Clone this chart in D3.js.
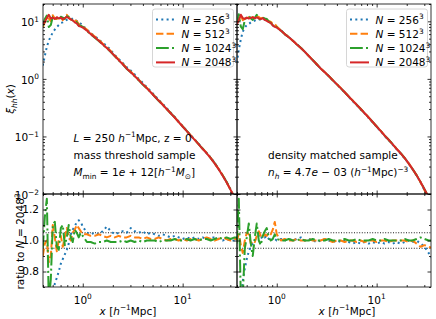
<!DOCTYPE html>
<html>
<head>
<meta charset="utf-8">
<script src="https://cdn.jsdelivr.net/npm/d3@7"></script>
<style>
body { margin: 0; background: #fff; }
svg text { font-family: "DejaVu Sans", sans-serif; font-size: 10.5px; white-space: pre; }
</style>
</head>
<body>
<div id="chart"></div>
<script>
// separation x [h^-1 Mpc]
const xVals = [0.398, 0.417, 0.437, 0.457, 0.479, 0.501, 0.525, 0.550, 0.575, 0.603,
  0.631, 0.661, 0.692, 0.724, 0.759, 0.794, 0.832, 0.871, 0.912, 0.955, 1.00,
  1.10, 1.20, 1.32, 1.45, 1.58, 1.74, 1.91, 2.09, 2.29, 2.51, 2.75, 3.02, 3.31, 3.63,
  3.98, 4.37, 4.79, 5.25, 5.75, 6.31, 6.92, 7.59, 8.32, 9.12, 10.0, 11.0, 12.0, 13.2,
  14.5, 15.8, 17.4, 19.1, 20.9, 22.9, 25.1, 27.5, 30.2, 33.1, 36.3];

const labels = ["256", "512", "1024", "2048"];

// xi_hh, mass threshold sample
const massXi256 = [1.7, 2.5, 3.6, 4.6, 5.5, 6.4, 7.2, 8.0, 8.6, 9.4, 9.6, 10.0, 10.6, 10.9, 11.0, 11.1, 10.4, 10.2, 9.4, 9.1, 8.5,
  7.2, 6.25, 5.55, 4.8, 4.25, 3.75, 3.15, 2.6, 2.23, 1.9, 1.6, 1.4, 1.19, 1.0, 0.86, 0.72, 0.615, 0.515, 0.433, 0.37,
  0.31, 0.258, 0.219, 0.182, 0.15, 0.126, 0.105, 0.089, 0.074, 0.062, 0.0515, 0.043, 0.0347, 0.0273, 0.021, 0.0162, 0.0118, 0.0085, 0.0058];
const massXi512 = [7.9, 9.6, 11.5, 11.2, 10.1, 12.8, 11.2, 11.0, 11.2, 11.9, 10.5, 11.5, 13.0, 11.6, 10.8, 10.9, 10.3, 10.1, 9.0, 8.6, 8.1,
  7.18, 6.18, 5.46, 4.78, 4.12, 3.52, 3.04, 2.55, 2.18, 1.84, 1.55, 1.34, 1.14, 0.97, 0.82, 0.70, 0.59, 0.5, 0.43, 0.36,
  0.30, 0.256, 0.215, 0.178, 0.15, 0.124, 0.105, 0.088, 0.073, 0.062, 0.052, 0.0424, 0.034, 0.0273, 0.0214, 0.0162, 0.0118, 0.0086, 0.0059];
const massXi1024 = [8.4, 11.0, 12.6, 8.0, 8.6, 12.0, 12.0, 11.3, 10.5, 12.0, 11.6, 11.0, 12.2, 12.0, 11.0, 10.3, 10.2, 9.6, 8.5, 8.4, 8.0,
  6.83, 5.94, 5.2, 4.55, 3.96, 3.45, 2.92, 2.48, 2.1, 1.8, 1.5, 1.3, 1.11, 0.95, 0.8, 0.69, 0.585, 0.495, 0.416, 0.355,
  0.30, 0.253, 0.215, 0.178, 0.149, 0.125, 0.104, 0.088, 0.073, 0.0616, 0.0515, 0.042, 0.0343, 0.0275, 0.0212, 0.0163, 0.0119, 0.0087, 0.0059];
const massXi2048 = [8.8, 9.8, 11.5, 13.0, 11.2, 11.6, 11.0, 11.8, 11.2, 11.6, 10.9, 11.3, 12.0, 11.4, 10.8, 10.4, 9.6, 9.2, 8.3, 8.1, 7.8,
  6.9, 6.0, 5.3, 4.6, 4.0, 3.45, 2.95, 2.5, 2.12, 1.8, 1.52, 1.3, 1.12, 0.95, 0.81, 0.69, 0.585, 0.495, 0.42, 0.355,
  0.30, 0.253, 0.213, 0.178, 0.149, 0.124, 0.104, 0.087, 0.073, 0.061, 0.051, 0.042, 0.034, 0.027, 0.021, 0.016, 0.0118, 0.0085, 0.0058];

// xi_hh, density matched sample
const densXi256 = [1.9, 3.2, 4.9, 6.6, 7.8, 8.6, 9.0, 9.6, 10.0, 10.3, 10.7, 10.8, 10.9, 10.9, 10.6, 10.4, 9.8, 9.5, 8.5, 8.1, 7.8,
  7.0, 6.0, 5.35, 4.6, 4.04, 3.5, 2.95, 2.52, 2.12, 1.78, 1.52, 1.31, 1.12, 0.94, 0.81, 0.68, 0.585, 0.49, 0.41, 0.351,
  0.294, 0.25, 0.209, 0.176, 0.146, 0.123, 0.102, 0.086, 0.0715, 0.0604, 0.05, 0.0416, 0.034, 0.0267, 0.0212, 0.0159, 0.0115, 0.0081, 0.0053];
const densXi512 = [8.9, 10.9, 12.6, 10.5, 11.0, 12.2, 11.6, 11.3, 11.8, 11.2, 12.1, 11.9, 11.2, 11.5, 11.0, 10.5, 10.2, 9.8, 9.1, 9.0, 8.1,
  6.95, 6.05, 5.33, 4.62, 4.02, 3.47, 2.96, 2.51, 2.13, 1.81, 1.53, 1.31, 1.13, 0.955, 0.815, 0.693, 0.588, 0.497, 0.423, 0.357,
  0.302, 0.254, 0.214, 0.179, 0.15, 0.125, 0.1045, 0.0875, 0.0734, 0.0613, 0.0512, 0.0422, 0.0341, 0.0271, 0.0213, 0.016, 0.0116, 0.0084, 0.0057];
const densXi1024 = [8.7, 13.3, 8.1, 7.3, 10.5, 11.8, 12.4, 11.3, 10.6, 11.5, 13.0, 11.2, 10.6, 11.6, 11.2, 11.0, 9.9, 9.4, 8.6, 8.3, 7.9,
  6.9, 6.0, 5.3, 4.6, 4.0, 3.46, 2.95, 2.5, 2.13, 1.8, 1.52, 1.3, 1.12, 0.95, 0.81, 0.69, 0.585, 0.495, 0.42, 0.355,
  0.30, 0.253, 0.214, 0.178, 0.149, 0.1245, 0.104, 0.0875, 0.073, 0.0612, 0.0512, 0.042, 0.0341, 0.0271, 0.0212, 0.0162, 0.012, 0.0088, 0.006];
const densXi2048 = [8.9, 10.5, 13.0, 11.4, 11.0, 11.6, 11.2, 11.5, 11.8, 11.3, 11.7, 11.2, 10.9, 11.3, 10.6, 10.2, 9.7, 9.4, 8.5, 8.0, 7.8,
  6.9, 6.0, 5.3, 4.6, 4.0, 3.45, 2.95, 2.5, 2.12, 1.8, 1.52, 1.3, 1.12, 0.95, 0.81, 0.69, 0.585, 0.495, 0.42, 0.355,
  0.30, 0.253, 0.213, 0.178, 0.149, 0.124, 0.104, 0.087, 0.073, 0.061, 0.051, 0.042, 0.034, 0.027, 0.0212, 0.0162, 0.012, 0.0088, 0.006];

// ratio to N = 2048^3
const massRatio256 = [0.45, 0.5, 0.55, 0.6, 0.64, 0.68, 0.72, 0.76, 0.80, 0.85, 0.88, 0.91, 0.94, 0.98, 1.04, 1.07, 1.09, 1.12, 1.13, 1.12, 1.09,
  1.05, 1.04, 1.05, 1.04, 1.06, 1.09, 1.06, 1.04, 1.05, 1.06, 1.05, 1.08, 1.06, 1.05, 1.06, 1.04, 1.05, 1.04, 1.03, 1.04,
  1.03, 1.02, 1.03, 1.02, 1.01, 1.02, 1.01, 1.02, 1.01, 1.02, 1.01, 1.02, 1.02, 1.01, 1.0, 1.01, 1.0, 1.0, 1.0];
const massRatio512 = [0.9, 0.98, 1.0, 0.86, 0.9, 1.1, 1.02, 0.93, 1.0, 1.03, 0.96, 1.02, 1.08, 1.02, 1.0, 1.05, 1.07, 1.1, 1.08, 1.06, 1.04,
  1.04, 1.03, 1.03, 1.04, 1.03, 1.02, 1.03, 1.02, 1.03, 1.02, 1.02, 1.03, 1.02, 1.02, 1.01, 1.02, 1.01, 1.01, 1.02, 1.01,
  1.0, 1.01, 1.01, 1.0, 1.01, 1.0, 1.01, 1.01, 1.0, 1.01, 1.02, 1.01, 1.0, 1.01, 1.02, 1.01, 1.0, 1.01, 1.01];
const massRatio1024 = [0.95, 1.15, 1.27, 0.6, 0.75, 1.1, 1.12, 0.96, 0.94, 1.08, 1.1, 0.97, 1.02, 1.1, 1.02, 0.99, 1.07, 1.05, 1.02, 1.05, 1.03,
  0.99, 0.99, 0.98, 0.99, 0.99, 1.0, 0.99, 0.99, 0.99, 1.0, 0.99, 1.0, 0.99, 1.0, 0.99, 1.0, 1.0, 1.0, 0.99, 1.0,
  1.0, 1.0, 1.01, 1.0, 1.0, 1.01, 1.0, 1.01, 1.0, 1.01, 1.01, 1.0, 1.01, 1.02, 1.01, 1.02, 1.01, 1.02, 1.02];
const densRatio256 = [0.4, 0.5, 0.62, 0.74, 0.82, 0.88, 0.93, 0.96, 0.98, 1.0, 1.02, 1.03, 1.01, 1.03, 1.02, 1.03, 1.01, 1.02, 1.0, 1.01, 1.0,
  1.01, 1.0, 1.01, 1.0, 1.01, 1.02, 1.0, 1.01, 1.0, 0.99, 1.0, 1.01, 1.0, 0.99, 1.0, 0.99, 1.0, 0.99, 0.98, 0.99,
  0.98, 0.99, 0.98, 0.99, 0.98, 0.99, 0.98, 0.99, 0.98, 0.99, 0.98, 0.99, 1.0, 0.99, 1.0, 0.98, 0.96, 0.92, 0.88];
const densRatio512 = [1.0, 1.04, 0.97, 0.92, 1.0, 1.05, 1.04, 0.98, 1.0, 0.99, 1.03, 1.06, 1.03, 1.02, 1.04, 1.03, 1.05, 1.04, 1.07, 1.12, 1.04,
  1.0, 1.01, 1.0, 1.0, 1.01, 1.0, 1.0, 1.01, 1.0, 1.0, 1.0, 1.01, 1.0, 0.99, 1.0, 1.0, 0.99, 1.0, 1.0, 0.99,
  1.0, 0.99, 1.0, 1.0, 0.99, 1.0, 1.0, 0.99, 1.0, 1.0, 1.0, 1.0, 0.99, 1.0, 0.98, 0.96, 0.97, 0.96, 0.95];
const densRatio1024 = [0.98, 1.27, 0.62, 0.64, 0.95, 1.02, 1.11, 0.98, 0.9, 1.02, 1.11, 1.0, 0.97, 1.03, 1.06, 1.08, 1.02, 1.0, 1.01, 1.04, 1.01,
  1.0, 1.0, 1.01, 1.0, 1.0, 1.01, 1.0, 1.0, 1.01, 1.0, 1.0, 1.0, 1.01, 1.0, 1.0, 1.0, 1.01, 1.0, 1.0, 1.01,
  1.0, 1.0, 1.0, 1.01, 1.0, 1.0, 1.01, 1.0, 1.0, 1.0, 1.0, 1.01, 1.0, 1.0, 1.01, 1.02, 1.01, 1.0, 1.0];

const xMajor = [1, 10];
const xMinor = [0.4, 0.5, 0.6, 0.7, 0.8, 0.9, 2, 3, 4, 5, 6, 7, 8, 9, 20, 30];
const yTopMajor = [0.01, 0.1, 1, 10];
const yTopMinor = [0.02, 0.03, 0.04, 0.05, 0.06, 0.07, 0.08, 0.09, 0.2, 0.3, 0.4, 0.5, 0.6, 0.7, 0.8, 0.9,
  2, 3, 4, 5, 6, 7, 8, 9, 20];
const yTopLabels = ["−2", "−1", "0", "1"];
const yRatMajor = [0.8, 1.0, 1.2];
const yRatMinor = [0.7, 0.9, 1.1, 1.3];
const bandLines = [0.95, 1.05];

// line styles: dotted, dashed, dash-dot, solid (tab10 colours)
const colors = ["#1f77b4", "#ff7f0e", "#2ca02c", "#d62728"];
const dashes = ["2,3.3", "7.4,3.2", "12.8,3.2,2,3.2", null];

const W = 436, H = 319;
const pw = 194, th = 190, rh = 93;
const panelLeft = [43, 237];
const topY = 4, ratY = 194;

const svg = d3.select("#chart").append("svg").attr("width", W).attr("height", H);

const x = d3.scaleLog().domain([0.4, 35]).range([0, pw]);
const yTop = d3.scaleLog().domain([0.01, 20]).range([th, 0]);
const yRat = d3.scaleLinear().domain([0.7, 1.3]).range([rh, 0]);

// writes mathtext-like pieces into a text node: kinds "i", "sup", "sub", "isub"
function rich(t, parts) {
  let shift = 0;
  parts.forEach(([s, k]) => {
    const sp = t.append("tspan").text(s);
    const target = k.includes("sup") ? -4.2 : k.includes("sub") ? 2.6 : 0;
    if (target !== shift) { sp.attr("dy", target - shift); shift = target; }
    if (k.includes("sup") || k.includes("sub")) sp.style("font-size", "7.4px");
    if (k.startsWith("i")) sp.style("font-style", "italic");
  });
}

function frameTicks(g, h, y, yMaj, yMin) {
  const sides = [
    [d3.axisBottom, x, 0, h, xMajor, xMinor],
    [d3.axisTop, x, 0, 0, xMajor, xMinor],
    [d3.axisLeft, y, 0, 0, yMaj, yMin],
    [d3.axisRight, y, pw, 0, yMaj, yMin]
  ];
  sides.forEach(([mk, sc, tx, ty, maj, min]) => {
    [[maj, 3.5], [min, 2]].forEach(([vals, len]) => {
      g.append("g").attr("transform", `translate(${tx},${ty})`)
        .call(mk(sc).tickValues(vals).tickSize(-len).tickSizeOuter(0).tickFormat(""))
        .call(a => a.select(".domain").remove())
        .selectAll("line").attr("stroke", "#000").attr("stroke-width", 0.8);
    });
  });
  g.append("rect").attr("width", pw).attr("height", h)
    .attr("fill", "none").attr("stroke", "#000").attr("stroke-width", 0.8);
}

function drawLines(g, series, y, id, h) {
  g.append("clipPath").attr("id", id).append("rect").attr("width", pw).attr("height", h);
  const line = d3.line().x(d => x(d[0])).y(d => y(d[1]));
  series.forEach((vals, i) => {
    g.append("path")
      .datum(xVals.map((v, j) => [v, vals[j]]))
      .attr("clip-path", `url(#${id})`)
      .attr("d", line)
      .attr("fill", "none")
      .attr("stroke", colors[i])
      .attr("stroke-width", 2)
      .attr("stroke-dasharray", dashes[i])
      .attr("stroke-linejoin", "round");
  });
}

function legend(g) {
  const lw = 81, lh = 58;
  const lg = g.append("g").attr("transform", `translate(${pw - 3.5 - lw},5)`);
  lg.append("rect").attr("width", lw).attr("height", lh).attr("rx", 2.5)
    .attr("fill", "#fff").attr("fill-opacity", 0.8).attr("stroke", "#ccc").attr("stroke-width", 0.8);
  labels.forEach((n, i) => {
    const ry = 10.5 + i * 14.3;
    lg.append("line").attr("x1", 3.5).attr("x2", 22.5).attr("y1", ry).attr("y2", ry)
      .attr("stroke", colors[i]).attr("stroke-width", 2).attr("stroke-dasharray", dashes[i]);
    rich(lg.append("text").attr("x", 29).attr("y", ry + 4), [["N", "i"], [" = " + n, ""], ["3", "sup"]]);
  });
}

const panels = [
  { xi: [massXi256, massXi512, massXi1024, massXi2048], ratio: [massRatio256, massRatio512, massRatio1024] },
  { xi: [densXi256, densXi512, densXi1024, densXi2048], ratio: [densRatio256, densRatio512, densRatio1024] }
];

panels.forEach((p, k) => {
  const gt = svg.append("g").attr("transform", `translate(${panelLeft[k]},${topY})`);
  drawLines(gt, p.xi, yTop, "clipTop" + k, th);
  frameTicks(gt, th, yTop, yTopMajor, yTopMinor);
  legend(gt);

  const gr = svg.append("g").attr("transform", `translate(${panelLeft[k]},${ratY})`);
  gr.selectAll(".band").data(bandLines).join("line")
    .attr("x1", 0).attr("x2", pw).attr("y1", d => yRat(d)).attr("y2", d => yRat(d))
    .attr("stroke", "#000").attr("stroke-width", 0.9).attr("stroke-dasharray", "1,1.6");
  drawLines(gr, p.ratio, yRat, "clipRat" + k, rh);
  frameTicks(gr, rh, yRat, yRatMajor, yRatMinor);

  // x tick labels
  gr.selectAll(".xl").data(xMajor).join("text")
    .attr("x", d => x(d)).attr("y", rh + 16.5).attr("text-anchor", "middle")
    .each(function (d, i) { rich(d3.select(this), [["10", ""], [String(i), "sup"]]); });

  // x label
  rich(svg.append("text").attr("x", [128, 347][k]).attr("y", 314.5).attr("text-anchor", "middle"),
    [["x", "i"], [" [", ""], ["h", "i"], ["−1", "sup"], ["Mpc]", ""]]);
});

// left-panel y tick labels
const gl = svg.append("g").attr("transform", `translate(${panelLeft[0]},0)`);
gl.selectAll(".yt").data(yTopMajor).join("text")
  .attr("x", -4).attr("y", d => topY + yTop(d) + 4.7).attr("text-anchor", "end")
  .each(function (d, i) { rich(d3.select(this), [["10", ""], [yTopLabels[i], "sup"]]); });
gl.selectAll(".yr").data(yRatMajor).join("text")
  .attr("x", -4).attr("y", d => ratY + yRat(d) + 3.8).attr("text-anchor", "end")
  .text(d => d.toFixed(1));

// y labels
rich(svg.append("text").attr("transform", `translate(14,${topY + th / 2}) rotate(-90)`).attr("text-anchor", "middle"),
  [["ξ", "i"], ["hh", "isub"], ["(", ""], ["x", "i"], [")", ""]]);
rich(svg.append("text").attr("transform", `translate(24,${ratY + rh / 2 + 1}) rotate(-90)`).attr("text-anchor", "middle"),
  [["ratio to ", ""], ["N", "i"], [" = 2048", ""], ["3", "sup"]]);

// annotations
const ann = svg.append("g").attr("transform", `translate(${panelLeft[0] + 30.5},0)`);
rich(ann.append("text").attr("y", 141.5),
  [["L", "i"], [" = 250 ", ""], ["h", "i"], ["−1", "sup"], ["Mpc, z = 0", ""]]);
ann.append("text").attr("y", 159).text("mass threshold sample");
rich(ann.append("text").attr("y", 176),
  [["M", "i"], ["min", "sub"], [" = 1", ""], ["e", "i"], [" + 12[", ""], ["h", "i"], ["−1", "sup"], ["M", "i"], ["⊙", "sub"], ["]", ""]]);

const ann2 = svg.append("g").attr("transform", `translate(${panelLeft[1] + 31},0)`);
ann2.append("text").attr("y", 159).text("density matched sample");
rich(ann2.append("text").attr("y", 176),
  [["n", "i"], ["h", "isub"], [" = 4.7", ""], ["e", "i"], [" − 03 (", ""], ["h", "i"], ["−1", "sup"], ["Mpc)", ""], ["−3", "sup"]]);
</script>
</body>
</html>
